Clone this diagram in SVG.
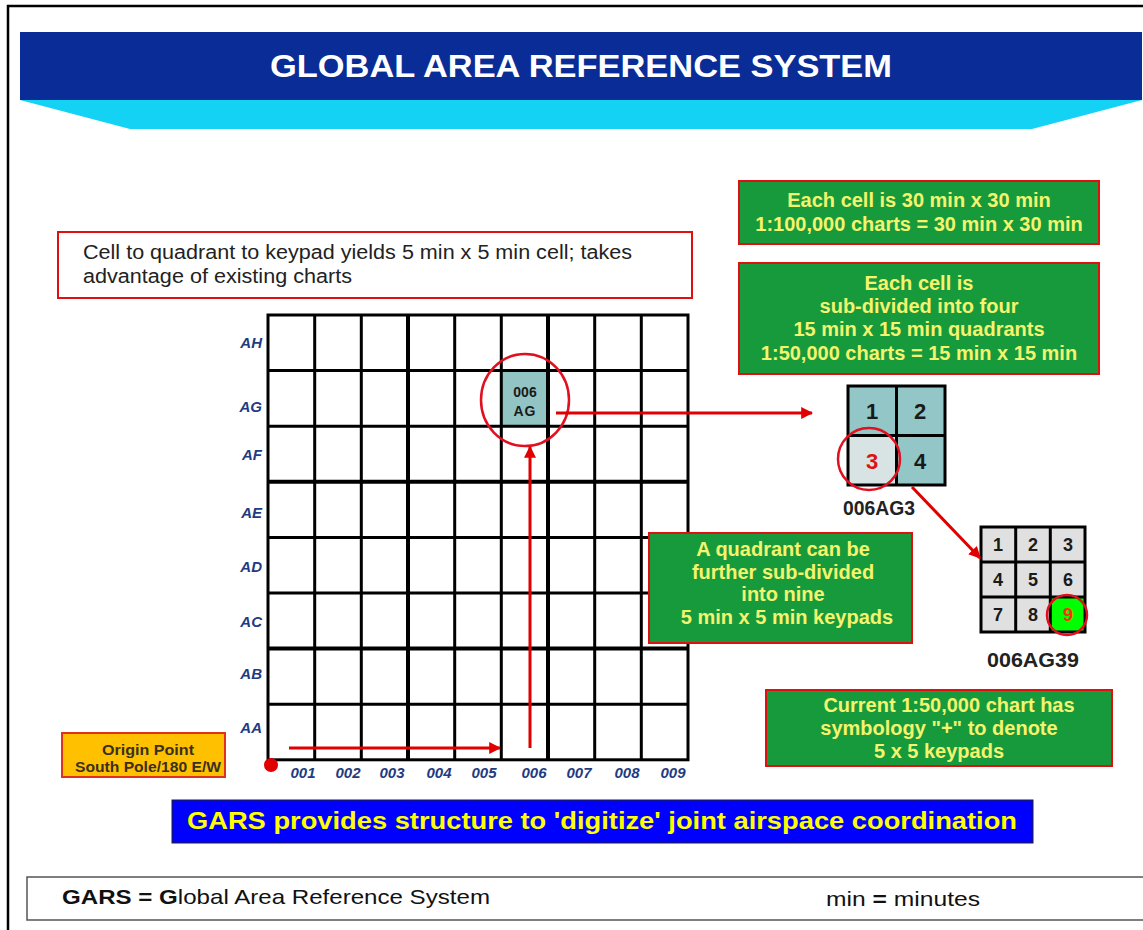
<svg xmlns="http://www.w3.org/2000/svg" width="1143" height="930" viewBox="0 0 1143 930">
<style>
.gb{fill:#179a3c;stroke:#e01010;stroke-width:2}
.gt{font-family:"Liberation Sans",Arial,sans-serif;font-weight:bold;font-size:20px;fill:#f4f46e;text-anchor:middle}
.gl{stroke:#000;stroke-width:3;fill:none}
.gk{stroke:#000;stroke-width:4;fill:none}
.rl{font-family:"Liberation Sans",Arial,sans-serif;font-weight:bold;font-style:italic;font-size:15px;fill:#1f3b82}
.cl{font-family:"Liberation Sans",Arial,sans-serif;font-weight:bold;font-style:italic;font-size:15px;fill:#1f3b82;text-anchor:middle}
.num{font-family:"Liberation Sans",Arial,sans-serif;font-weight:bold;fill:#1a1a1a;text-anchor:middle}
.arr{stroke:#e00000;stroke-width:3;fill:none}
.circ{stroke:#e01020;stroke-width:2.5;fill:none}
</style>
<defs>
<marker id="ah" viewBox="0 0 10 10" refX="9" refY="5" markerWidth="4" markerHeight="4" orient="auto" markerUnits="strokeWidth">
<path d="M0,0 L10,5 L0,10 z" fill="#e00000"/>
</marker>
</defs>
<rect x="0" y="0" width="1143" height="930" fill="#fff"/>
<path d="M8,930 L8,6 L1143,6" stroke="#000" stroke-width="2.5" fill="none"/>

<g id="title">
<rect x="20" y="32" width="1122" height="68" fill="#0a2c96"/>
<polygon points="20,100 1142,100 1032,129 130,129" fill="#14d2f4"/>
<text x="581" y="77" text-anchor="middle" font-family="Liberation Sans,Arial,sans-serif" font-weight="bold" font-size="31" fill="#fff" textLength="622" lengthAdjust="spacingAndGlyphs">GLOBAL AREA REFERENCE SYSTEM</text>
</g>

<g id="note-top">
<rect x="58" y="232" width="634" height="66" fill="#fff" stroke="#e01010" stroke-width="2"/>
<text font-family="Liberation Sans,Arial,sans-serif" font-size="20" fill="#222"><tspan x="83" y="259" textLength="549" lengthAdjust="spacingAndGlyphs">Cell to quadrant to keypad yields 5 min x 5 min cell; takes</tspan><tspan x="83" y="283" textLength="269" lengthAdjust="spacingAndGlyphs">advantage of existing charts</tspan></text>
</g>

<g id="grid">
<rect x="501.3" y="370.6" width="46.7" height="55.6" fill="#93c4c4"/>
<rect x="268" y="315" width="420" height="444.8" fill="none" class="gl"/>
<path class="gl" d="M314.7,315V759.8M361.3,315V759.8M454.7,315V759.8M501.3,315V759.8M594.7,315V759.8M641.3,315V759.8M268,370.6H688M268,426.2H688M268,537.4H688M268,593H688M268,704.2H688"/>
<path class="gk" d="M408,315V759.8M548,315V759.8M268,481.8H688M268,648.6H688"/>
<text class="num" font-size="14" x="525" y="397">006</text>
<text class="num" font-size="14" x="525" y="416" letter-spacing="1">AG</text>
<text class="rl" text-anchor="end"><tspan x="262" y="348">AH</tspan><tspan x="262" y="412">AG</tspan><tspan x="262" y="460">AF</tspan><tspan x="262" y="518">AE</tspan><tspan x="262" y="572">AD</tspan><tspan x="262" y="627">AC</tspan><tspan x="262" y="679">AB</tspan><tspan x="262" y="733">AA</tspan></text>
<text class="cl"><tspan x="303" y="778">001</tspan><tspan x="348" y="778">002</tspan><tspan x="392" y="778">003</tspan><tspan x="439" y="778">004</tspan><tspan x="484" y="778">005</tspan><tspan x="534" y="778">006</tspan><tspan x="579" y="778">007</tspan><tspan x="627" y="778">008</tspan><tspan x="673" y="778">009</tspan></text>
<ellipse class="circ" cx="525" cy="400" rx="44" ry="46"/>
</g>

<g id="box-cell">
<rect class="gb" x="739" y="181" width="360" height="63"/>
<text class="gt"><tspan x="919" y="207">Each cell is 30 min x 30 min</tspan><tspan x="919" y="231">1:100,000 charts = 30 min x 30 min</tspan></text>
</g>

<g id="box-quadrant">
<rect class="gb" x="739" y="263" width="360" height="111"/>
<text class="gt"><tspan x="919" y="290">Each cell is</tspan><tspan x="919" y="313">sub-divided into four</tspan><tspan x="919" y="336">15 min x 15 min quadrants</tspan><tspan x="919" y="360">1:50,000 charts = 15 min x 15 min</tspan></text>
</g>

<g id="box-keypad">
<rect class="gb" x="649" y="533" width="263" height="110"/>
<text class="gt"><tspan x="783" y="556">A quadrant can be</tspan><tspan x="783" y="579">further sub-divided</tspan><tspan x="783" y="601">into nine</tspan><tspan x="787" y="624">5 min x 5 min keypads</tspan></text>
</g>

<g id="box-current">
<rect class="gb" x="766" y="690" width="346" height="76"/>
<text class="gt"><tspan x="949" y="712">Current 1:50,000 chart has</tspan><tspan x="939" y="735">symbology "+" to denote</tspan><tspan x="939" y="758">5 x 5 keypads</tspan></text>
</g>

<g id="origin">
<rect x="62" y="733" width="163" height="44" fill="#ffc000" stroke="#e03020" stroke-width="2"/>
<text font-family="Liberation Sans,Arial,sans-serif" font-size="14" font-weight="bold" fill="#3a3020" text-anchor="middle"><tspan x="148" y="755" textLength="92" lengthAdjust="spacingAndGlyphs">Origin Point</tspan><tspan x="148" y="772" textLength="146" lengthAdjust="spacingAndGlyphs">South Pole/180 E/W</tspan></text>
<circle cx="271" cy="765" r="7" fill="#e00000"/>
</g>

<g id="quadrant">
<rect x="848" y="386" width="97" height="99" fill="#93c7c7"/>
<rect x="848" y="435.5" width="48.5" height="49.5" fill="#d8e4e4"/>
<rect x="848" y="386" width="97" height="99" class="gl"/>
<path class="gl" d="M896.5,386V485M848,435.5H945"/>
<text class="num" font-size="22"><tspan x="872" y="419">1</tspan><tspan x="920" y="419">2</tspan><tspan x="920" y="469">4</tspan></text>
<text class="num" font-size="22" x="872" y="469" style="fill:#e01010">3</text>
<circle class="circ" cx="869" cy="459" r="31"/>
<text class="num" font-size="20" x="879" y="515" style="fill:#222" textLength="72" lengthAdjust="spacingAndGlyphs">006AG3</text>
</g>

<g id="keypad">
<rect x="981" y="527" width="104" height="105" fill="#e0e0e0"/>
<rect x="1050.3" y="597" width="34.7" height="35" fill="#00ff00"/>
<rect x="981" y="527" width="104" height="105" class="gl"/>
<path class="gl" d="M1015.7,527V632M1050.3,527V632M981,562H1085M981,597H1085"/>
<text class="num" font-size="18"><tspan x="998" y="551">1</tspan><tspan x="1033" y="551">2</tspan><tspan x="1068" y="551">3</tspan><tspan x="998" y="586">4</tspan><tspan x="1033" y="586">5</tspan><tspan x="1068" y="586">6</tspan><tspan x="998" y="621">7</tspan><tspan x="1033" y="621">8</tspan></text>
<text class="num" font-size="18" x="1068" y="621" style="fill:#ff3000">9</text>
<circle class="circ" cx="1067" cy="615" r="20"/>
<text class="num" font-size="20" x="1033" y="667" style="fill:#222" textLength="92" lengthAdjust="spacingAndGlyphs">006AG39</text>
</g>

<g id="connectors">
<line class="arr" x1="556" y1="413" x2="812" y2="413" marker-end="url(#ah)"/>
<line class="arr" x1="530" y1="748" x2="530" y2="447" marker-end="url(#ah)"/>
<line class="arr" x1="289" y1="748" x2="500" y2="748" marker-end="url(#ah)"/>
<line class="arr" x1="912" y1="487" x2="980" y2="558" marker-end="url(#ah)"/>
</g>

<g id="banner">
<rect x="172" y="800" width="861" height="43" fill="#0000ff" stroke="#222" stroke-width="1"/>
<text x="602" y="829" text-anchor="middle" font-family="Liberation Sans,Arial,sans-serif" font-weight="bold" font-size="24" fill="#ffff00" textLength="830" lengthAdjust="spacingAndGlyphs">GARS provides structure to 'digitize' joint airspace coordination</text>
</g>

<g id="footer">
<rect x="27" y="877" width="1120" height="43" fill="#fff" stroke="#555" stroke-width="1.5"/>
<text font-family="Liberation Sans,Arial,sans-serif" font-size="21" fill="#111" x="62" y="904" textLength="428" lengthAdjust="spacingAndGlyphs"><tspan font-weight="bold">GARS = G</tspan>lobal Area Reference System</text>
<text font-family="Liberation Sans,Arial,sans-serif" font-size="21" fill="#111" x="826" y="906" textLength="154" lengthAdjust="spacingAndGlyphs">min <tspan font-weight="bold">=</tspan> minutes</text>
</g>
</svg>
